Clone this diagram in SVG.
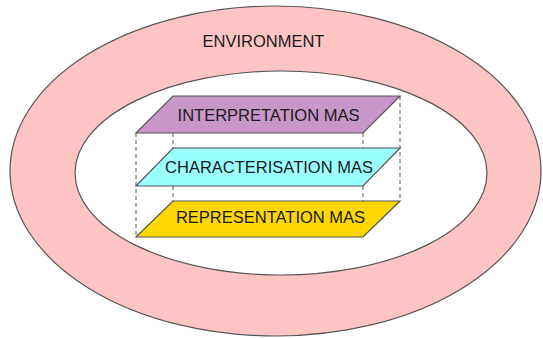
<svg xmlns="http://www.w3.org/2000/svg" width="543" height="338" viewBox="0 0 543 338">
<style>
.ring{stroke:#555;stroke-width:1.2}
.plate{stroke:#555;stroke-width:1.2}
.dash{stroke:#555;stroke-width:1;stroke-dasharray:4,3;fill:none}
.lbl{font-family:"Liberation Sans",Arial,sans-serif;font-size:16.5px;fill:#1a1a1a;text-anchor:middle}
</style>
<rect width="543" height="338" fill="#fff"/>
<g id="environment">
<ellipse class="ring" cx="275.5" cy="171" rx="265.5" ry="165" fill="#FFC5C5"/>
<ellipse class="ring" cx="281" cy="173" rx="206" ry="102" fill="#fff"/>
<text class="lbl" x="263.5" y="47">ENVIRONMENT</text>
</g>
<g id="connectors">
<line class="dash" x1="136" y1="133" x2="136" y2="237"/>
<line class="dash" x1="400" y1="96" x2="400" y2="201"/>
<line class="dash" x1="173" y1="133" x2="173" y2="148"/>
<line class="dash" x1="173" y1="186" x2="173" y2="201"/>
<line class="dash" x1="363" y1="133" x2="363" y2="148"/>
<line class="dash" x1="363" y1="186" x2="363" y2="201"/>
</g>
<g id="interpretation">
<polygon class="plate" points="173,96 400,96 363,133 136,133" fill="#C896C8"/>
<text class="lbl" x="268.5" y="121">INTERPRETATION MAS</text>
</g>
<g id="characterisation">
<polygon class="plate" points="173,148 400,148 363,186 136,186" fill="#99FFFF"/>
<text class="lbl" x="269" y="173">CHARACTERISATION MAS</text>
</g>
<g id="representation">
<polygon class="plate" points="173,201 400,201 363,237 136,237" fill="#FFD700"/>
<text class="lbl" x="270.5" y="223">REPRESENTATION MAS</text>
</g>
</svg>
